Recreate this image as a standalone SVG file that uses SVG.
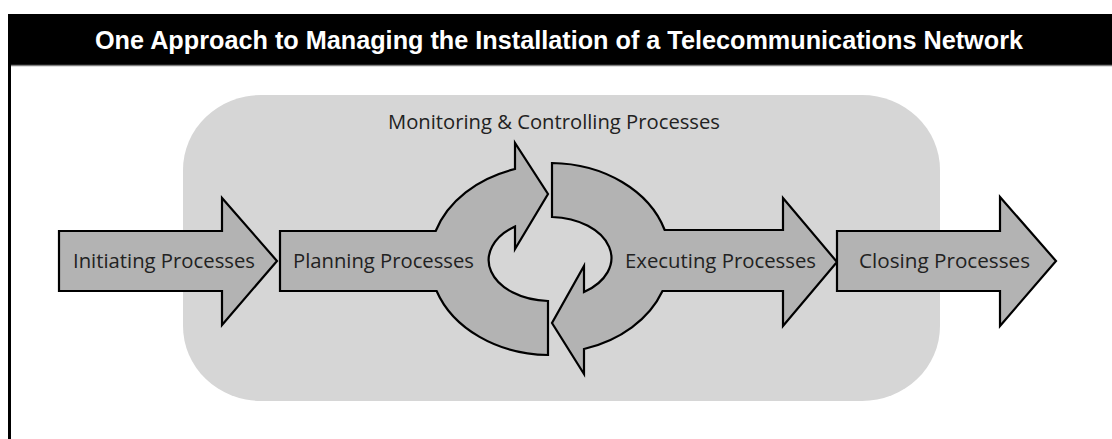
<svg xmlns="http://www.w3.org/2000/svg" width="1112" height="439" viewBox="0 0 1112 439">
<style>
.arrow{fill:#b3b3b3;stroke:#000;stroke-width:2.2;stroke-linejoin:miter;stroke-miterlimit:10}
.lbl{font-family:"Open Sans","Noto Sans","Liberation Sans",sans-serif;font-size:20px;fill:#222}
.title{font-family:"Liberation Sans","Arial",sans-serif;font-weight:bold;font-size:26px;fill:#fff}
</style>
<rect x="0" y="0" width="1112" height="439" fill="#fff"/>
<g id="frame">
<rect x="8" y="14" width="1104" height="51" fill="#000"/>
<line x1="11" y1="65.5" x2="1112" y2="65.5" stroke="#808080" stroke-width="1.5"/>
<rect x="8" y="65" width="3" height="374" fill="#000"/>
<text class="title" x="95" y="49" textLength="928" lengthAdjust="spacingAndGlyphs">One Approach to Managing the Installation of a Telecommunications Network</text>
</g>
<g id="monitoring">
<rect x="183" y="95" width="757" height="306" rx="78" ry="75" fill="#d6d6d6"/>
<text class="lbl" x="388" y="129" textLength="332" lengthAdjust="spacingAndGlyphs">Monitoring &amp; Controlling Processes</text>
</g>
<g id="connectors"></g>
<g id="initiating">
<path class="arrow" d="M59,231 L222,231 L222,198 L277,261 L222,325 L222,291 L59,291 Z"/>
<text class="lbl" x="73" y="268" textLength="182" lengthAdjust="spacingAndGlyphs">Initiating Processes</text>
</g>
<g id="planning">
<path class="arrow" d="M280,231 L435.7,231 A120,95 0 0 1 515,169 L515,143 L548,194 L515,249 L515,226.5 A62,41 0 0 0 548,301 L548,355 A120,95 0 0 1 436.6,291 L280,291 Z"/>
<text class="lbl" x="293" y="268" textLength="181" lengthAdjust="spacingAndGlyphs">Planning Processes</text>
</g>
<g id="executing">
<path class="arrow" d="M552,163 A120,95 0 0 1 664.7,230 L783,230 L783,198 L837,262 L783,326 L783,291 L662.5,291 A120,95 0 0 1 584,349 L584,374 L552,323 L584,266 L584,292 A62,41 0 0 0 552,217 Z"/>
<text class="lbl" x="625" y="268" textLength="191" lengthAdjust="spacingAndGlyphs">Executing Processes</text>
</g>
<g id="closing">
<path class="arrow" d="M837,231 L1000,231 L1000,197 L1056,261 L1000,326 L1000,291 L837,291 Z"/>
<text class="lbl" x="859" y="268" textLength="171" lengthAdjust="spacingAndGlyphs">Closing Processes</text>
</g>
</svg>
